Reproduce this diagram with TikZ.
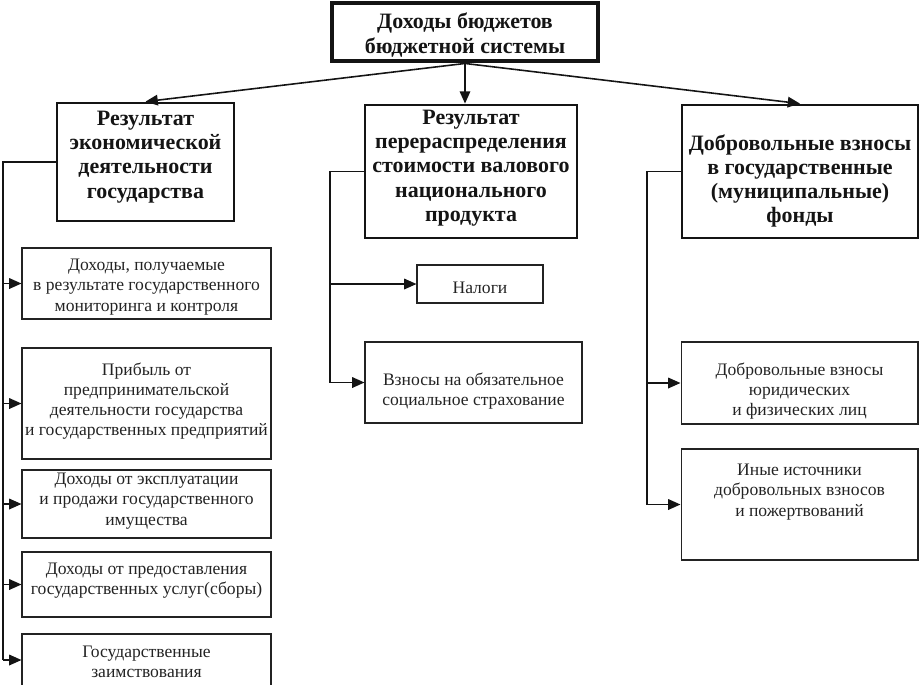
\documentclass[tikz,border=0pt]{standalone}
\usepackage{fontspec}
\setmainfont{Liberation Serif}
\usetikzlibrary{arrows.meta}
\definecolor{ink}{RGB}{20,20,20}
\definecolor{grey}{RGB}{35,35,35}

\tikzset{
  head/.style={draw=ink, line width=1.6pt, inner sep=0pt},
  small/.style={draw=grey, line width=0.6pt, inner sep=0pt},
  htxt/.style={align=center, font=\fontsize{12.5}{13.8}\selectfont\bfseries, text=ink},
  stxt/.style={align=center, font=\fontsize{10}{11.5}\selectfont, text=grey},
  arr/.style={-{Triangle[length=7pt,width=6pt]}, line width=0.9pt, draw=ink},
  bus/.style={line width=0.9pt, draw=ink}
}

\begin{document}
\begin{tikzpicture}[x=0.02cm, y=-0.02cm]
  \useasboundingbox (0,0) rectangle (920,684);

  \node[head, line width=2.8pt, minimum width=5.32cm, minimum height=1.16cm] (top) at (465,32) {};
  \node[htxt] (topt) at (465,35) {Доходы бюджетов\\бюджетной системы};

  \node[head, minimum width=3.54cm, minimum height=2.36cm] (L) at (145.5,162) {};
  \node[htxt] (Lt) at (145.5,157) {Результат\\экономической\\деятельности\\государства};
  \node[head, minimum width=4.24cm, minimum height=2.66cm] (M) at (471,171.5) {};
  \node[htxt] (Mt) at (471,168) {Результат\\перераспределения\\стоимости валового\\национального\\продукта};
  \node[head, minimum width=4.72cm, minimum height=2.66cm] (R) at (800,171.5) {};
  \node[htxt] (Rt) at (800,181) {Добровольные взносы\\в государственные\\(муниципальные)\\фонды};

  \node[small, minimum width=4.98cm, minimum height=1.42cm] (l1) at (146.5,283.5) {};
  \node[stxt] (l1t) at (146.5,287) {Доходы, получаемые\\в результате государственного\\мониторинга и контроля};
  \node[small, minimum width=4.98cm, minimum height=2.22cm] (l2) at (146.5,403.5) {};
  \node[stxt] (l2t) at (146.5,401) {Прибыль от\\предпринимательской\\деятельности государства\\и государственных предприятий};
  \node[small, minimum width=4.98cm, minimum height=1.36cm] (l3) at (146.5,504) {};
  \node[stxt] (l3t) at (146.5,501) {Доходы от эксплуатации\\и продажи государственного\\имущества};
  \node[small, minimum width=4.98cm, minimum height=1.3cm] (l4) at (146.5,584.5) {};
  \node[stxt] (l4t) at (146.5,581) {Доходы от предоставления\\государственных услуг(сборы)};
  \node[small, minimum width=4.98cm, minimum height=1.04cm] (l5) at (146.5,660) {};
  \node[stxt] (l5t) at (146.5,662) {Государственные\\заимствования};

  \node[small, minimum width=2.52cm, minimum height=0.76cm] (n1) at (480,284) {};
  \node[stxt] (n1t) at (480,288) {Налоги};
  \node[small, minimum width=4.34cm, minimum height=1.62cm] (n2) at (473.5,382.5) {};
  \node[stxt] (n2t) at (473.5,391) {Взносы на обязательное\\социальное страхование};

  \node[small, minimum width=4.74cm, minimum height=1.64cm] (r1) at (799.5,383) {};
  \node[stxt] (r1t) at (799.5,391) {Добровольные взносы\\юридических\\и физических лиц};
  \node[small, minimum width=4.74cm, minimum height=2.22cm] (r2) at (799.5,504.5) {};
  \node[stxt] (r2t) at (799.5,492) {Иные источники\\добровольных взносов\\и пожертвований};

  \draw[arr] (top.south) -- (L.north);
  \draw[arr] (top.south) -- (top.south |- M.north);
  \draw[arr] (top.south) -- (R.north);

  \coordinate (lb) at (3,0);
  \coordinate (mb) at (330,0);
  \coordinate (rb) at (647,0);
  \draw[bus] (L.west) -| (lb |- l5.west);
  \foreach \b in {l1,l2,l3,l4,l5}
    \draw[arr] (lb |- \b.west) -- (\b.west);
  \draw[bus] (M.west) -| (mb |- n2.west);
  \foreach \b in {n1,n2}
    \draw[arr] (mb |- \b.west) -- (\b.west);
  \draw[bus] (R.west) -| (rb |- r2.west);
  \foreach \b in {r1,r2}
    \draw[arr] (rb |- \b.west) -- (\b.west);
\end{tikzpicture}
\end{document}
